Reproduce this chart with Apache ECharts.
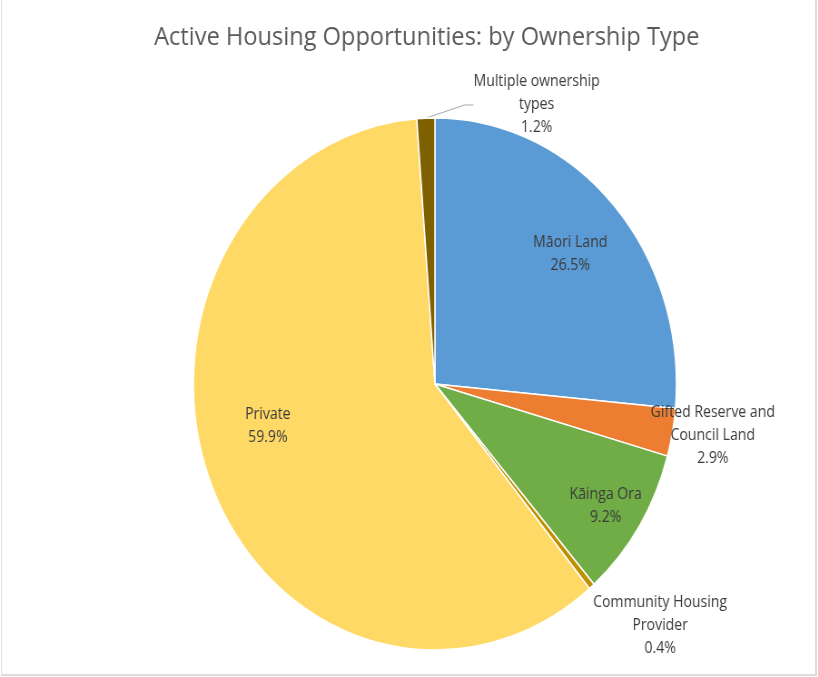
<!DOCTYPE html>
<html>
<head>
<meta charset="utf-8">
<script src="https://cdn.jsdelivr.net/npm/echarts@6/dist/echarts.min.js"></script>
<style>
  html, body { margin: 0; padding: 0; background: #fff; }
  .frame {
    position: absolute; left: 1px; top: 0; width: 813px; height: 674px;
    border-left: 1px solid #e2e2e2; border-right: 2px solid #dcdcdc; border-bottom: 2px solid #dcdcdc;
    overflow: hidden;
  }
  /* the original picture is squeezed sideways, so the chart is drawn wider and squeezed back */
  #chart {
    position: absolute; left: -2px; top: 0; width: 901px; height: 677px;
    transform: scaleX(0.908); transform-origin: 0 0;
  }
</style>
</head>
<body>
<div class="frame"><div id="chart"></div></div>
<script>
// ownership types, clockwise from 12 o'clock
var categories = ['Māori Land', 'Gifted Reserve and\nCouncil Land', 'Kāinga Ora',
  'Community Housing\nProvider', 'Private', 'Multiple ownership\ntypes'];
var shares = [26.5, 2.9, 9.2, 0.4, 59.9, 1.2];
var colors = ['#5b9bd5', '#ed7d31', '#70ad47', '#bf8f00', '#ffd966', '#7f6000'];

// where Excel put each label (chart px, before the sideways squeeze)
var labelSpots = [[628, 254], [785, 436], [667, 506], [727, 626], [295, 426], [591, 105]];

var chart = echarts.init(document.getElementById('chart'));

var pieData = categories.map(function (c, i) {
  return { name: c, value: shares[i], itemStyle: { color: colors[i] } };
});

chart.setOption({
  animation: false,
  title: {
    text: 'Active Housing Opportunities: by Ownership Type',
    left: 465,
    top: 20,
    textAlign: 'center',
    textStyle: { fontFamily: 'Open Sans', fontSize: 26, fontWeight: 'normal', color: '#595959' }
  },
  series: [{
    type: 'pie',
    center: [479, 384],
    radius: 266,
    startAngle: 90,
    clockwise: true,
    avoidLabelOverlap: false,
    itemStyle: { borderColor: '#fff', borderWidth: 1.5 },
    label: {
      show: true,
      position: 'outside',
      formatter: function (p) { return p.name + '\n' + p.value.toFixed(1) + '%'; },
      fontFamily: 'Open Sans',
      fontSize: 15.5,
      lineHeight: 23,
      color: '#3a3a3a',
      align: 'center'
    },
    labelLine: { show: true, length: 10, length2: 10, lineStyle: { color: '#a6a6a6', width: 1 } },
    labelLayout: function (p) {
      var s = labelSpots[p.dataIndex];
      return { x: s[0], y: s[1], align: 'center', verticalAlign: 'middle' };
    },
    data: pieData.map(function (d, i) {
      if (i === 5) return d;
      d.labelLine = { show: false };
      return d;
    })
  }]
});
</script>
</body>
</html>
